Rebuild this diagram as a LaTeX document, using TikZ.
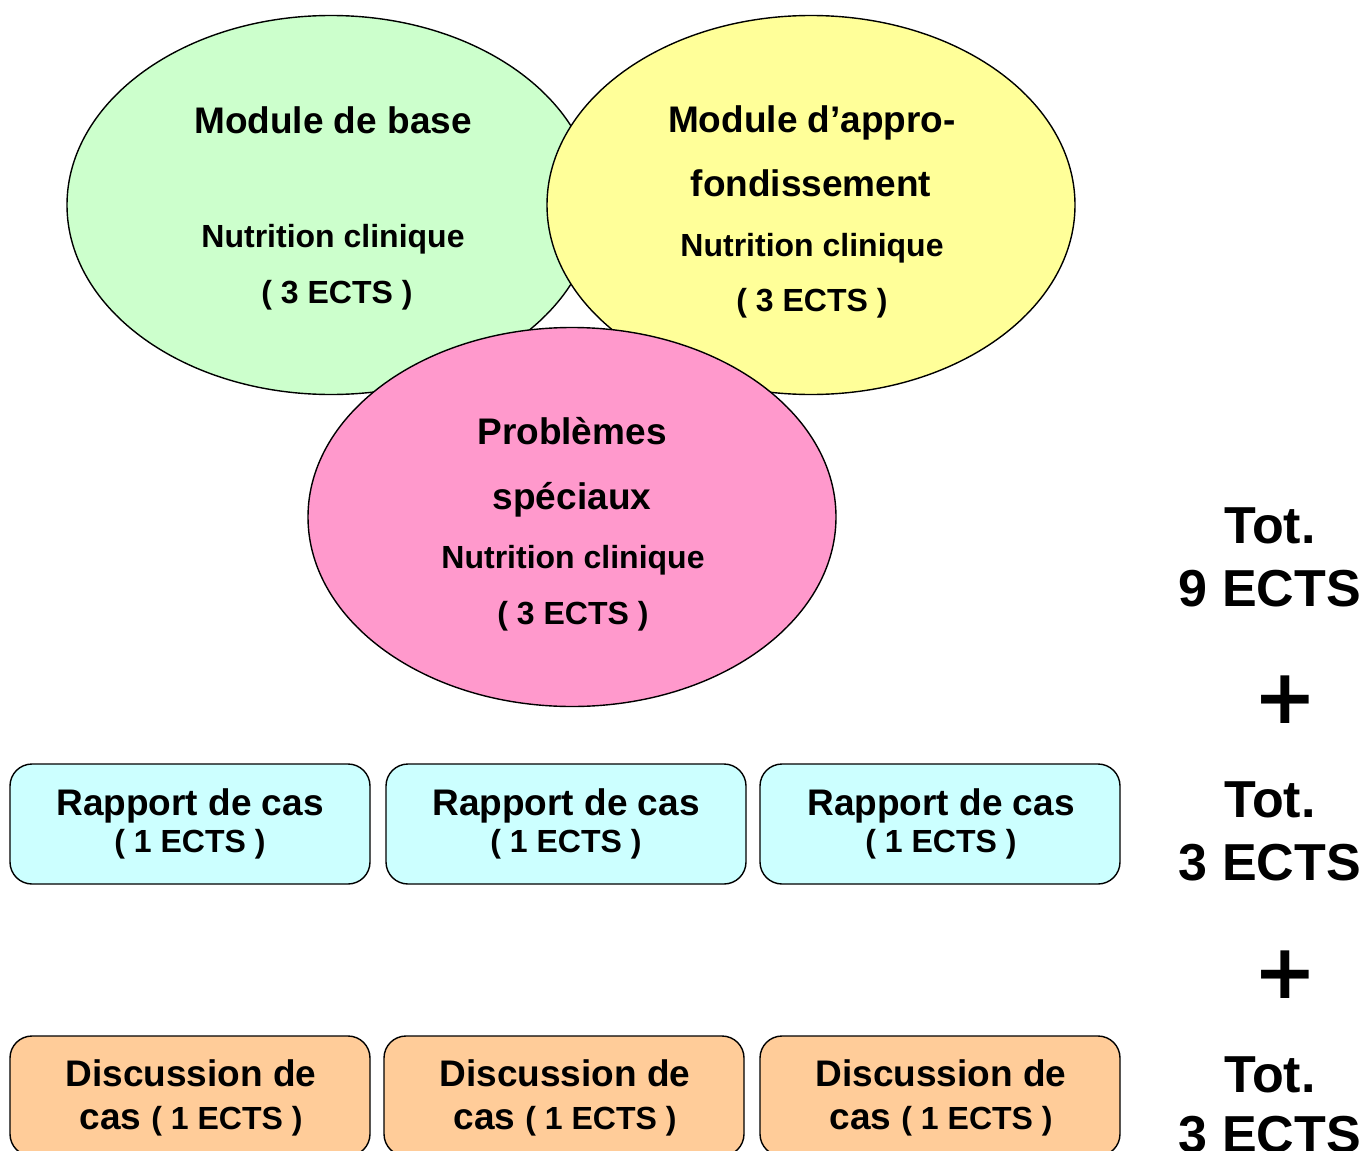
\documentclass[tikz,border=0pt]{standalone}
\usepackage{fontspec}
\setmainfont{Liberation Sans}
\newfontfamily\plusfont{DejaVu Sans}
\usetikzlibrary{shapes.geometric}
\definecolor{cgreen}{HTML}{CCFFCC}
\definecolor{cyellow}{HTML}{FFFF99}
\definecolor{cpink}{HTML}{FF99CC}
\definecolor{ccyan}{HTML}{CCFFFF}
\definecolor{corange}{HTML}{FFCC99}
\tikzset{
  oval/.style={ellipse, draw=black, line width=1.4pt, inner sep=0pt, minimum width=528pt, minimum height=379pt},
  card/.style={draw=black, line width=1.4pt, rounded corners=22pt, inner sep=0pt, minimum width=360pt, minimum height=120pt},
  big/.style={anchor=base, inner sep=0pt, font=\bfseries\fontsize{37}{44}\selectfont},
  small/.style={anchor=base, inner sep=0pt, font=\bfseries\fontsize{32}{38}\selectfont},
  total/.style={anchor=base, inner sep=0pt, font=\bfseries\fontsize{52}{60}\selectfont},
  plus/.style={inner sep=0pt, font=\plusfont\bfseries\fontsize{76}{76}\selectfont}
}
\begin{document}
\begin{tikzpicture}[x=1pt,y=-1pt]
\useasboundingbox (0,0) rectangle (1369,1151);
% ellipses
\node[oval, fill=cgreen] (e1) at (331,205) {};
\node[oval, fill=cyellow] (e2) at (811,205) {};
\node[oval, fill=cpink] (e3) at (572,517) {};
% green texts
\node[big] (t1a) at (333,133) {Module de base};
\node[small] (t1b) at (333,247) {Nutrition clinique};
\node[small] (t1c) at (337,303) {( 3 ECTS )};
% yellow texts
\node[big] (t2a) at (812,132) {Module d’appro-};
\node[big] (t2b) at (811,196) {fondissement};
\node[small] (t2c) at (812,256) {Nutrition clinique};
\node[small] (t2d) at (812,311) {( 3 ECTS )};
% pink texts
\node[big] (t3a) at (572,444) {Problèmes};
\node[big] (t3b) at (572,509) {spéciaux};
\node[small] (t3c) at (573,568) {Nutrition clinique};
\node[small] (t3d) at (573,624) {( 3 ECTS )};
% rapport boxes
\node[card, fill=ccyan] (r1) at (190,824) {};
\node[card, fill=ccyan] (r2) at (566,824) {};
\node[card, fill=ccyan] (r3) at (940,824) {};
\foreach \n/\x in {1/190,2/566,3/941}{
  \node[big] (ra\n) at (\x,815) {Rapport de cas};
  \node[small] (rb\n) at (\x,852) {( 1 ECTS )};
}
% discussion boxes
\node[card, fill=corange] (d1) at (190,1096) {};
\node[card, fill=corange] (d2) at (564,1096) {};
\node[card, fill=corange] (d3) at (940,1096) {};
\foreach \n/\x in {1/191,2/565,3/941}{
  \node[big] (da\n) at (\x,1086) {Discussion de};
  \node[anchor=base, inner sep=0pt] (db\n) at (\x,1129) {\bfseries\fontsize{37}{44}\selectfont cas \fontsize{32}{38}\selectfont( 1 ECTS )};
}
% totals
\node[total] (s1a) at (1270,543) {Tot.};
\node[total] (s1b) at (1270,606) {9 ECTS};
\node[plus] (p1) at (1285,700) {+};
\node[total] (s2a) at (1270,817) {Tot.};
\node[total] (s2b) at (1270,880) {3 ECTS};
\node[plus] (p2) at (1285,975) {+};
\node[total] (s3a) at (1270,1092) {Tot.};
\node[total] (s3b) at (1270,1152) {3 ECTS};
\end{tikzpicture}
\end{document}
